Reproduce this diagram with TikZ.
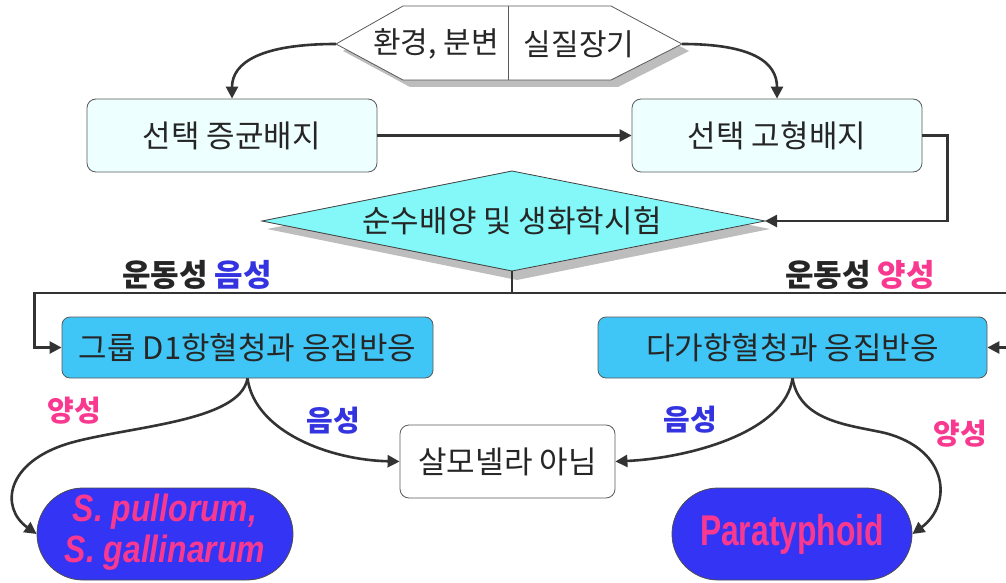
\documentclass[tikz,border=0pt]{standalone}
\usepackage{fontspec}
\setmainfont{Noto Sans CJK KR}
\newfontfamily\latinbold{Liberation Sans}
\usetikzlibrary{arrows.meta,shapes.misc}
\definecolor{linec}{HTML}{333333}
\definecolor{pinkc}{HTML}{F8398F}
\definecolor{bluec}{HTML}{3333E0}
\definecolor{stadc}{HTML}{3434F4}
\definecolor{skyc}{HTML}{40C6F6}
\definecolor{palec}{HTML}{EEFFFF}
\definecolor{diamc}{HTML}{84F8F8}
\definecolor{shadc}{HTML}{BDBDBD}
\begin{document}
\begin{tikzpicture}[x=1pt,y=-1pt,
  every node/.style={text=black!85, font=\fontsize{31}{34}\selectfont},
  conn/.style={draw=linec, line width=2.6pt, -{Triangle[length=12pt,width=12pt]}},
  plain/.style={draw=linec, line width=2.6pt},
  palebox/.style={draw=gray!70!black, line width=0.8pt, fill=palec, rounded corners=9pt, minimum width=290pt, minimum height=73pt, inner sep=0pt},
  skybox/.style={draw=black!65, line width=0.8pt, fill=skyc, rounded corners=8pt, minimum height=61pt, inner sep=0pt},
  whitebox/.style={draw=gray!70!black, line width=0.8pt, fill=white, rounded corners=9pt, minimum width=215pt, minimum height=73pt, inner sep=0pt},
  stad/.style={draw=black!70, line width=0.8pt, fill=stadc, rounded rectangle, minimum height=92pt, inner sep=0pt, text=pinkc},
  lbl/.style={font=\fontsize{31}{34}\selectfont\bfseries},
  slbl/.style={font=\fontsize{29}{32}\selectfont\bfseries}
]
\useasboundingbox (0,0) rectangle (1006,583);

% top hexagon
\fill[shadc] (343,51)--(410,13)--(618,13)--(689,51)--(618,87)--(410,87)--cycle;
\draw[draw=gray!70!black, fill=white, line width=0.8pt] (336,44)--(403,6)--(611,6)--(682,44)--(611,80)--(403,80)--cycle;
\draw[gray!70!black, line width=0.6pt] (508,6)--(508,80);
\node[font=\fontsize{30}{33}\selectfont] (hexA) at (436,44) {환경, 분변};
\node[font=\fontsize{30}{33}\selectfont] (hexB) at (579,44) {실질장기};
\coordinate (hexL) at (336,44);
\coordinate (hexR) at (682,44);

% boxes
\node[palebox] (box1) at (232,135.5) {선택 증균배지};
\node[palebox] (box2) at (777,135.5) {선택 고형배지};

% diamond
\coordinate (dL) at (262,221);
\coordinate (dT) at (512,171);
\coordinate (dR) at (765,221);
\coordinate (dB) at (512,271);
\fill[shadc] (267,229)--(517,179)--(770,229)--(517,280)--cycle;
\draw[draw=black!75, fill=diamc, line width=0.8pt] (dL)--(dT)--(dR)--(dB)--cycle;
\node (diam) at (512,221) {순수배양 및 생화학시험};

\node[skybox, minimum width=371pt] (box3) at (247.5,347.5) {그룹 D1항혈청과 응집반응};
\node[skybox, minimum width=389pt] (box4) at (792.5,347.5) {다가항혈청과 응집반응};
\node[whitebox] (box5) at (507.5,461.5) {살모넬라 아님};

\node[stad, minimum width=256pt] (st1) at (165,534)
  {\latinbold\bfseries\itshape\fontsize{38}{41}\selectfont
   \scalebox{0.84}[1]{\begin{tabular}{@{}c@{}}S. pullorum,\\ S. gallinarum\end{tabular}}};
\node[stad, minimum width=240pt] (st2) at (792,534)
  {\scalebox{0.74}[1]{\latinbold\bfseries\fontsize{43}{46}\selectfont Paratyphoid}};

% labels
\node[lbl] (mneg) at (197,275) {운동성 \textcolor{bluec}{음성}};
\node[lbl] (mpos) at (860,275) {운동성 \textcolor{pinkc}{양성}};
\node[slbl, text=pinkc] (p1) at (74,411) {양성};
\node[slbl, text=bluec] (n1) at (333,421) {음성};
\node[slbl, text=bluec] (n2) at (690,420) {음성};
\node[slbl, text=pinkc] (p2) at (960,434) {양성};

% connectors
\draw[conn] (hexL) .. controls (262,44) and (232,62) .. (box1.north);
\draw[conn] (hexR) .. controls (752,44) and (777,62) .. (box2.north);
\draw[conn] (box1.east) -- (box2.west);
\draw[conn] (box2.east) -- ++(25,0) |- (dR);
\coordinate (split) at (512,293);
\draw[plain] (dB) -- (split);
\draw[conn] (split) -| ([xshift=-27pt]box3.west) -- (box3.west);
\draw[conn] (split) -| ([xshift=25pt]box4.east) -- (box4.east);

\draw[conn] (box3.south) .. controls (240,422) and (130,426) .. (70,443) .. controls (5,462) and (0,508) .. (st1.west);
\draw[conn] (box3.south) .. controls (255,432) and (330,460) .. (box5.west);
\draw[conn] (box4.south) .. controls (785,432) and (690,458) .. (box5.east);
\draw[conn] (box4.south) .. controls (800,422) and (850,425) .. (885,433) .. controls (950,450) and (952,505) .. (st2.east);
\end{tikzpicture}
\end{document}
